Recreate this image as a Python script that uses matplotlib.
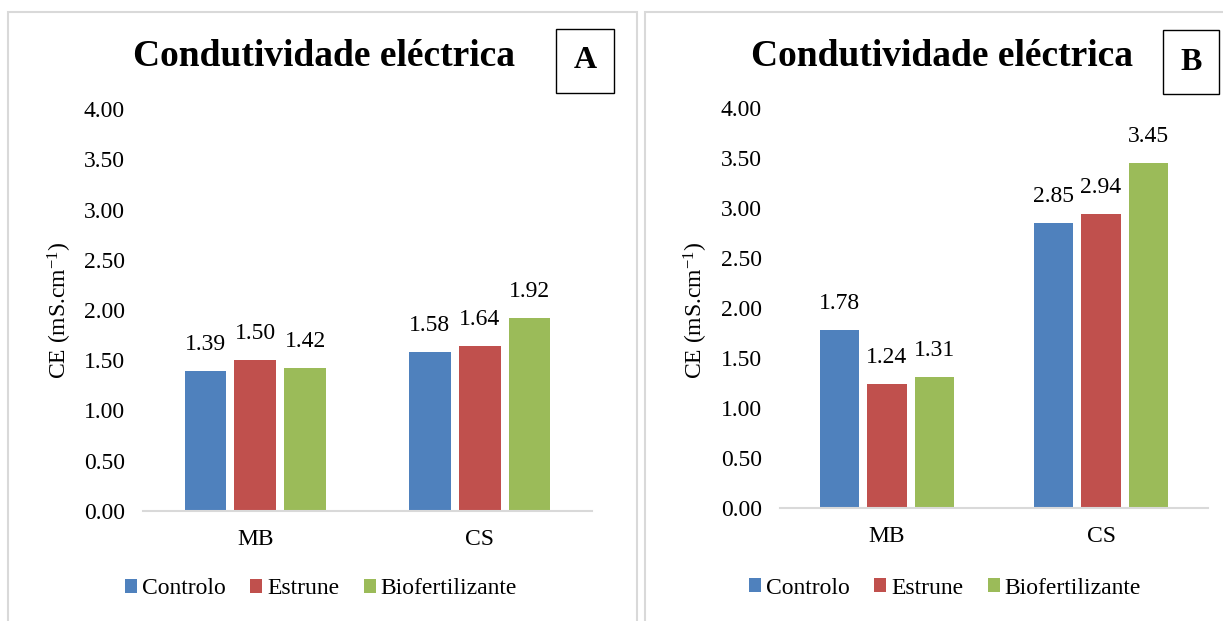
import numpy as np
import matplotlib.pyplot as plt
from matplotlib.patches import Rectangle

plt.rcParams['font.family'] = ['Liberation Serif', 'DejaVu Serif']
plt.rcParams['mathtext.fontset'] = 'custom'
plt.rcParams['mathtext.rm'] = 'Liberation Serif'
plt.rcParams['mathtext.default'] = 'regular'

# Condutividade eléctrica (CE) por local e tratamento
locais = ["MB", "CS"]
tratamentos = ["Controlo", "Estrune", "Biofertilizante"]
cores = ["#4F81BD", "#C0504D", "#9BBB59"]

ce_A = {"Controlo": [1.39, 1.58], "Estrune": [1.50, 1.64], "Biofertilizante": [1.42, 1.92]}
ce_B = {"Controlo": [1.78, 2.85], "Estrune": [1.24, 2.94], "Biofertilizante": [1.31, 3.45]}

W, H = 1223, 621
fig = plt.figure(figsize=(W / 100, H / 100), dpi=100)


def px(x0, y0, x1, y1):
    # caixa em pixeis (topo-esquerda) -> coordenadas da figura
    return [x0 / W, 1 - y1 / H, (x1 - x0) / W, (y1 - y0) / H]


def painel(dados, ax_box, frame, title_xy, letra, box_xy, ylab_x, leg_xy):
    # moldura do painel
    fig.patches.append(Rectangle((frame[0] / W, 1 - frame[3] / H),
                                 (frame[2] - frame[0]) / W, (frame[3] - frame[1]) / H,
                                 transform=fig.transFigure, fill=False,
                                 edgecolor="#D9D9D9", lw=1.5))
    ax = fig.add_axes(px(*ax_box))
    x = np.arange(len(locais))
    largura = 0.185
    desloc = 0.222
    for i, t in enumerate(tratamentos):
        barras = ax.bar(x + (i - 1) * desloc, dados[t], largura, color=cores[i], label=t)
        for b, v in zip(barras, dados[t]):
            ax.annotate(f"{v:.2f}", (b.get_x() + b.get_width() / 2, v),
                        xytext=(0, 19), textcoords="offset points",
                        ha="center", va="center", fontsize=17)
    ax.set_xlim(-0.5, 1.5)
    ax.set_ylim(0, 4)
    ax.set_yticks(np.arange(0, 4.01, 0.5))
    ax.set_yticklabels([f"{v:.2f}" for v in np.arange(0, 4.01, 0.5)])
    ax.set_xticks(x)
    ax.set_xticklabels(locais)
    ax.tick_params(length=0, labelsize=17)
    ax.tick_params(axis="y", pad=13)
    ax.tick_params(axis="x", pad=13)
    for s in ["top", "right", "left"]:
        ax.spines[s].set_visible(False)
    ax.spines["bottom"].set_color("#D9D9D9")
    ax.spines["bottom"].set_linewidth(1.5)

    fig.text(title_xy[0] / W, 1 - title_xy[1] / H, "Condutividade eléctrica",
             ha="center", va="center", fontsize=27, fontweight="bold")
    fig.text(box_xy[0] / W, 1 - box_xy[1] / H, letra, ha="center", va="center",
             fontsize=23, fontweight="bold",
             bbox=dict(boxstyle="square,pad=0.55", fc="white", ec="black", lw=1))
    fig.text(ylab_x / W, 1 - 310 / H, "CE (mS.cm$^{-1}$)", rotation=90,
             ha="center", va="center", fontsize=17)
    ax.legend(loc="center", bbox_to_anchor=(leg_xy[0] / W, 1 - leg_xy[1] / H),
              bbox_transform=fig.transFigure, ncol=3, frameon=False, fontsize=17,
              handlelength=0.5, handleheight=0.5, handletextpad=0.2,
              columnspacing=1.05)
    return ax


painel(ce_A, (143, 109, 592, 511), (8, 12, 637, 640), (324, 56), "A", (585, 61), 60, (321, 589))
painel(ce_B, (780, 108, 1208, 508), (645, 12, 1240, 640), (942, 56), "B", (1191, 62), 696, (945, 588))

fig.savefig("out.png", dpi=100)
